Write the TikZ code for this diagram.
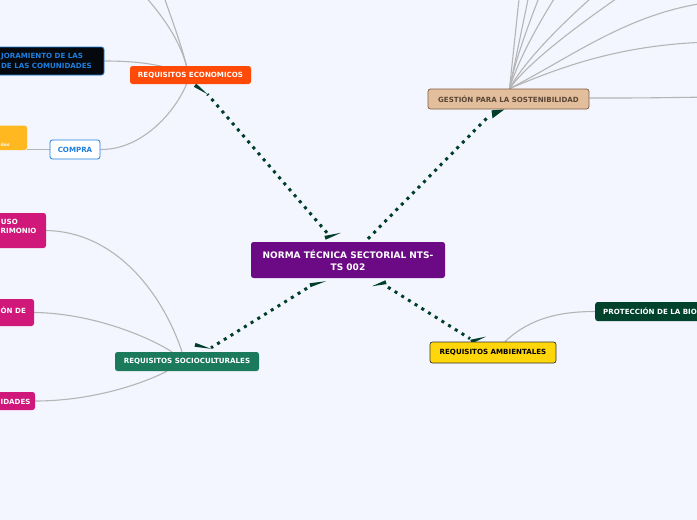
\documentclass[tikz,border=0pt]{standalone}
\usepackage{fontspec}
\setmainfont{DejaVu Sans}
\usetikzlibrary{calc}
\pgfdeclarelayer{bgfill}
\pgfdeclarelayer{lines}
\pgfsetlayers{bgfill,lines,main}
\definecolor{bgc}{HTML}{F3F6FE}
\definecolor{cpurple}{HTML}{6C0A85}
\definecolor{corange}{HTML}{FF4A08}
\definecolor{ctan}{HTML}{E3BE9C}
\definecolor{ctanb}{HTML}{7A5C44}
\definecolor{ctant}{HTML}{5A4636}
\definecolor{cteal}{HTML}{1B7A5C}
\definecolor{cyellow}{HTML}{FFD60A}
\definecolor{cdkgreen}{HTML}{00422C}
\definecolor{cblue}{HTML}{1E7FE0}
\definecolor{cblack}{HTML}{05090E}
\definecolor{cgold}{HTML}{FFB81F}
\definecolor{cmagenta}{HTML}{D0177A}
\definecolor{cgray}{HTML}{B5B5B5}
\definecolor{cdot}{HTML}{003D2B}
\newcommand{\mywedge}[2]{\fill[cdot] ($#1!2pt!90:#2$) -- #2 -- ($#1!2pt!-90:#2$) -- cycle;}
\begin{document}
\begin{tikzpicture}[x=1pt,y=-1pt,
  base/.style={rounded corners=2.5pt, inner sep=0pt, text=white,
    font=\fontsize{7.1}{8}\selectfont\bfseries},
  frag/.style={inner sep=0pt, text=white, font=\fontsize{7.1}{8}\selectfont\bfseries},
  gline/.style={draw=cgray, line width=1.1pt},
  dotline/.style={draw=cdot, line width=3pt, dash pattern=on 3pt off 4.9pt}]
\clip (0,0) rectangle (697,520);
\begin{pgfonlayer}{bgfill}
\fill[bgc] (0,0) rectangle (697,520);
\end{pgfonlayer}

% main nodes
\node[base, fill=cpurple, minimum width=194pt, minimum height=36pt, align=center,
  font=\fontsize{9}{12}\selectfont\bfseries] (c) at (348,260) {NORMA TÉCNICA SECTORIAL NTS-\\TS 002};
\node[base, fill=corange, minimum width=121pt, minimum height=18pt] (eco) at (190.5,75) {REQUISITOS ECONOMICOS};
\node[base, fill=ctan, draw=ctanb, line width=0.7pt, text=ctant, minimum width=161pt, minimum height=20pt] (ges) at (508.5,99) {GESTIÓN PARA LA SOSTENIBILIDAD};
\node[base, fill=cteal, minimum width=144pt, minimum height=19pt] (soc) at (187,361.5) {REQUISITOS SOCIOCULTURALES};
\node[base, fill=cyellow, draw=black!80, line width=0.7pt, text=black, minimum width=126pt, minimum height=21pt] (amb) at (493,352.5) {REQUISITOS AMBIENTALES};

% protección
\node[base, fill=cdkgreen, minimum width=130pt, minimum height=19pt, anchor=west] (pro) at (595,311.5) {};
\node[frag, anchor=west] (protxt) at (603,311.5) {PROTECCIÓN DE LA BIO};

% black node
\node[base, fill=cblack, draw=cblue, line width=0.8pt, minimum width=124pt, minimum height=28pt] (blk) at (42,61) {};
\node[frag, text=cblue, anchor=west] (blk1) at (1,57) {JORAMIENTO DE LAS};
\node[frag, text=cblue, anchor=east] (blk2) at (92,65.5) {DE LAS COMUNIDADES};

% gold node
\node[base, fill=cgold, minimum width=57pt, minimum height=24.5pt] (orn) at (-1.5,137.75) {};
\node[inner sep=0pt, text=white!90!cgold, font=\fontsize{4.5}{5}\selectfont\bfseries, anchor=west] (orntxt) at (0.5,145) {dos};

% compra
\node[base, fill=white, draw=cblue, line width=0.8pt, text=cblue, minimum width=50pt, minimum height=19pt] (com) at (75,149.5) {COMPRA};

% magenta nodes
\node[base, fill=cmagenta, minimum width=76pt, minimum height=35pt] (mg1) at (8,230.5) {};
\node[frag, anchor=east] (mg1a) at (18,222) {USO};
\node[frag, anchor=west] (mg1b) at (0.5,230.5) {RIMONIO};
\node[base, fill=cmagenta, minimum width=64pt, minimum height=27pt] (mg2) at (2,312.5) {};
\node[frag, anchor=west] (mg2a) at (0.5,310) {ÓN DE};
\node[base, fill=cmagenta, minimum width=65pt, minimum height=18pt] (mg3) at (2.5,401) {};
\node[frag, anchor=west] (mg3a) at (0.5,401.5) {IDADES};

% off-screen ends
\coordinate (eo1) at (135,-15);
\coordinate (eo2) at (160,-15);
\coordinate (g1) at (520.5,-15);
\coordinate (g2) at (531,-15);
\coordinate (g3) at (544,-15);
\coordinate (g4) at (563,-15);
\coordinate (g5) at (606,-15);
\coordinate (g6) at (636,-15);
\coordinate (g7) at (712,2);
\coordinate (g8) at (712,42);
\coordinate (g9) at (712,97);

\begin{pgfonlayer}{lines}
% grey connectors: economic
\draw[gline] ([xshift=-4pt]eco.north) .. controls (178,35) and (158,10) .. (eo1);
\draw[gline] ([xshift=-4pt]eco.north) .. controls (180,40) and (170,15) .. (eo2);
\draw[gline] (blk.east) .. controls (135,61) and (165,64) .. ([xshift=-4pt]eco.center);
\draw[gline] (com.east) .. controls (142,150) and (175,112) .. ([xshift=-4pt]eco.south);
\draw[gline] (com.west) -- (com.west -| orn.east);
% grey connectors: gestion
\draw[gline] ([xshift=1pt]ges.north) -- (g1);
\draw[gline] ([xshift=1pt]ges.north) -- (g2);
\draw[gline] ([xshift=1pt]ges.north) .. controls (515,60) and (530,20) .. (g3);
\draw[gline] ([xshift=1pt]ges.north) .. controls (518,60) and (540,20) .. (g4);
\draw[gline] ([xshift=1pt]ges.north) .. controls (525,60) and (565,20) .. (g5);
\draw[gline] ([xshift=1pt]ges.north) .. controls (530,60) and (585,20) .. (g6);
\draw[gline] ([xshift=1pt]ges.north) .. controls (575,55) and (630,12) .. (g7);
\draw[gline] ([xshift=1pt]ges.north) .. controls (565,65) and (625,44) .. (g8);
\draw[gline] ([yshift=1pt]ges.east) .. controls (640,98) .. (g9);
% ambient
\draw[gline] ([xshift=12pt]amb.north) .. controls (530,318) and (560,311.5) .. (pro.west);
% socio
\draw[gline] (mg1.east) .. controls (120,232) and (165,300) .. ([xshift=-5pt]soc.north);
\draw[gline] (mg2.east) .. controls (85,313) and (140,332) .. ([xshift=-15pt]soc.north);
\draw[gline] (mg3.east) .. controls (90,401) and (140,385) .. ([xshift=-20pt]soc.south);

% dotted main connectors
\draw[dotline] ($(c.north)+(-21,-9)$) -- ($(eco.south)+(17,10)$);
\draw[dotline] ($(c.north)+(20,-3)$) -- ($(ges.south)+(-20,7)$);
\draw[dotline] ($(c.south)+(-41,10)$) -- ($(soc.north)+(24,-4)$);
\draw[dotline] ($(c.south)+(40,9)$) -- ($(amb.north)+(-23,-3)$);
% wedges
\mywedge{($(c.north)+(-23,-4)$)}{($(c.north)+(-7,-9)$)}
\mywedge{($(eco.south)+(4.5,1)$)}{($(eco.south)+(17,10)$)}
\fill[cdot] ($(ges.south)+(-17,1)$) -- ($(ges.south)+(-4,0)$) -- ($(ges.south)+(-16,9)$) -- cycle;
\mywedge{($(c.south)+(-38,7)$)}{($(c.south)+(-22,3)$)}
\mywedge{($(soc.north)+(8,-7)$)}{($(soc.north)+(24,-3)$)}
\mywedge{($(c.south)+(38,4)$)}{($(c.south)+(24,8)$)}
\mywedge{($(amb.north)+(-22,0)$)}{($(amb.north)+(-7,-5)$)}
\end{pgfonlayer}
\end{tikzpicture}
\end{document}
